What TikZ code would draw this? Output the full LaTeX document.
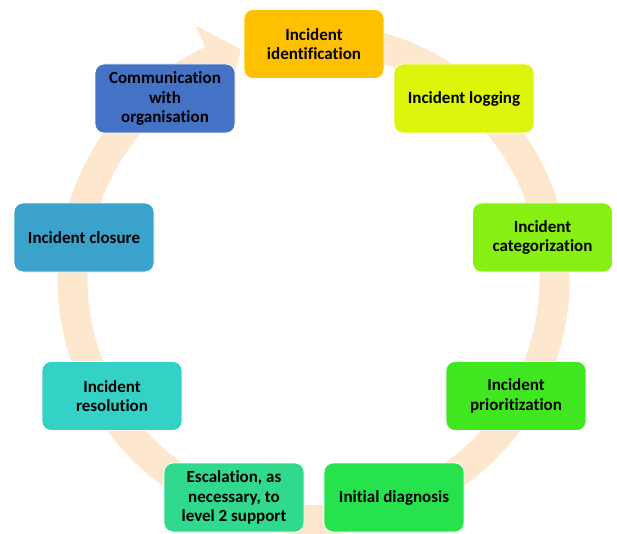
\documentclass[tikz,border=0pt]{standalone}
\usepackage{fontspec}
\setmainfont{Carlito}[Ligatures=NoCommon]
\usepackage{tikz}
\usetikzlibrary{calc,positioning}

\begin{document}
\begin{tikzpicture}[x=1pt,y=-1pt]
    % Local definitions
    \def\router{256pt}
    \def\rinner{226pt}
    \def\rmid{241pt}

    % Colors
    \definecolor{ringcolor}{HTML}{FDE7CF}
    \definecolor{identcolor}{HTML}{FFC000}
    \definecolor{logcolor}{HTML}{DCF50A}
    \definecolor{catcolor}{HTML}{88EF12}
    \definecolor{priocolor}{HTML}{40E61F}
    \definecolor{diagcolor}{HTML}{26E24C}
    \definecolor{esccolor}{HTML}{30D98E}
    \definecolor{rescolor}{HTML}{34D2C6}
    \definecolor{closecolor}{HTML}{3BA3CB}
    \definecolor{commcolor}{HTML}{4472C4}

    % Styles
    \tikzstyle{stage}=[draw=white,line width=0.8pt,rounded corners=9pt,
      minimum width=140pt,minimum height=69pt,align=center,inner sep=2pt,
      font=\fontsize{17}{19.5}\selectfont\bfseries,text=black]

    % The graphic
    \useasboundingbox (0,0) rectangle (617,534);

    \coordinate (ctr) at (313.5,279);

    % circular arrow behind the stages
    \fill[ringcolor]
      ($(ctr)+(78:\router)$) arc[start angle=78,end angle=-245,radius=\router]
      -- ($(ctr)+(-245:280pt)$)
      -- ($(ctr)+(-252.5:\rmid)$) coordinate (tip)
      -- ($(ctr)+(-245:202pt)$)
      -- ($(ctr)+(-245:\rinner)$)
      arc[start angle=-245,end angle=78,radius=\rinner] -- cycle;

    % stages
    \node[stage,fill=identcolor] (ident) at (314,44) {Incident\\identification};
    \node[stage,fill=logcolor]   (log)   at (464,98.5) {Incident logging};
    \node[stage,fill=catcolor]   (cat)   at (542.5,237.5) {Incident\\categorization};
    \node[stage,fill=priocolor]  (prio)  at (516,396) {Incident\\prioritization};
    \node[stage,fill=diagcolor]  (diag)  at (394,497.5) {Initial diagnosis};
    \node[stage,fill=esccolor]   (esc)   at (234,497.5) {Escalation, as\\necessary, to\\level 2 support};
    \node[stage,fill=rescolor]   (res)   at (112,396) {Incident\\resolution};
    \node[stage,fill=closecolor] (close) at (84,237.5) {Incident closure};
    \node[stage,fill=commcolor]  (comm)  at (165,98.5) {Communication\\with\\organisation};

\end{tikzpicture}
\end{document}
